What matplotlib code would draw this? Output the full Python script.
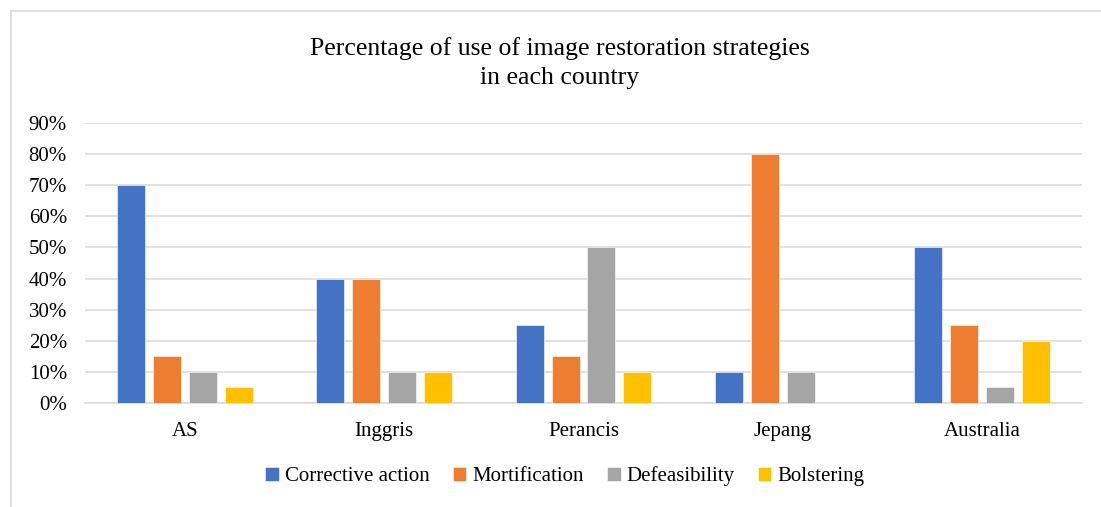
import matplotlib.pyplot as plt
import numpy as np
from matplotlib.lines import Line2D
from matplotlib.ticker import PercentFormatter

plt.rcParams['font.family'] = ['Liberation Serif', 'DejaVu Serif']

countries = ['AS', 'Inggris', 'Perancis', 'Jepang', 'Australia']
corrective = [0.70, 0.40, 0.25, 0.10, 0.50]
mortification = [0.15, 0.40, 0.15, 0.80, 0.25]
defeasibility = [0.10, 0.10, 0.50, 0.10, 0.05]
bolstering = [0.05, 0.10, 0.10, 0.00, 0.20]

series = [
    ('Corrective action', corrective, '#4472C4'),
    ('Mortification', mortification, '#ED7D31'),
    ('Defeasibility', defeasibility, '#A5A5A5'),
    ('Bolstering', bolstering, '#FFC000'),
]

W, H = 1101, 507
fig = plt.figure(figsize=(W / 100, H / 100), dpi=100)
ax = fig.add_axes([85 / W, 1 - 403 / H, (1082 - 85) / W, (403 - 123) / H])

x = np.arange(len(countries))
width = 0.1404  # bar width
step = 0.1805   # distance between bars in a group

handles = []
for i, (name, vals, col) in enumerate(series):
    b = ax.bar(x + (i - 1.5) * step, vals, width, color=col, label=name,
               edgecolor='white', linewidth=0.4, zorder=3)
    handles.append(b)

ax.set_xlim(-0.5, len(countries) - 0.5)
ax.set_ylim(0, 0.9)
ax.set_yticks(np.arange(0, 0.91, 0.1))
ax.yaxis.set_major_formatter(PercentFormatter(1.0, decimals=0))
ax.set_xticks(x, countries)
ax.grid(axis='y', color='#d9d9d9', linewidth=1.1, zorder=0)
for s in ['top', 'right', 'left']:
    ax.spines[s].set_visible(False)
ax.spines['bottom'].set_color('#d9d9d9')
ax.spines['bottom'].set_linewidth(1.1)
ax.tick_params(axis='both', length=0, labelsize=15, colors='#000000')
ax.tick_params(axis='y', pad=13)
ax.tick_params(axis='x', pad=14)

fig.text(560 / W, 1 - 37 / H,
         'Percentage of use of image restoration strategies\nin each country',
         ha='center', va='top', fontsize=18.5, linespacing=1.4)

fig.legend(handles=handles, loc='center', bbox_to_anchor=(565 / W, 1 - 476 / H),
           ncol=4, frameon=False, fontsize=15, handlelength=0.65, handleheight=0.65,
           handletextpad=0.3, columnspacing=1.1)

# chart frame (light grey border, only top and left visible in the crop)
fig.add_artist(Line2D([10.5 / W, 10.5 / W, 1.0], [0.0, 1 - 11 / H, 1 - 11 / H],
                      transform=fig.transFigure, color='#d9d9d9', linewidth=1.2))

fig.savefig('out.png', dpi=100)
